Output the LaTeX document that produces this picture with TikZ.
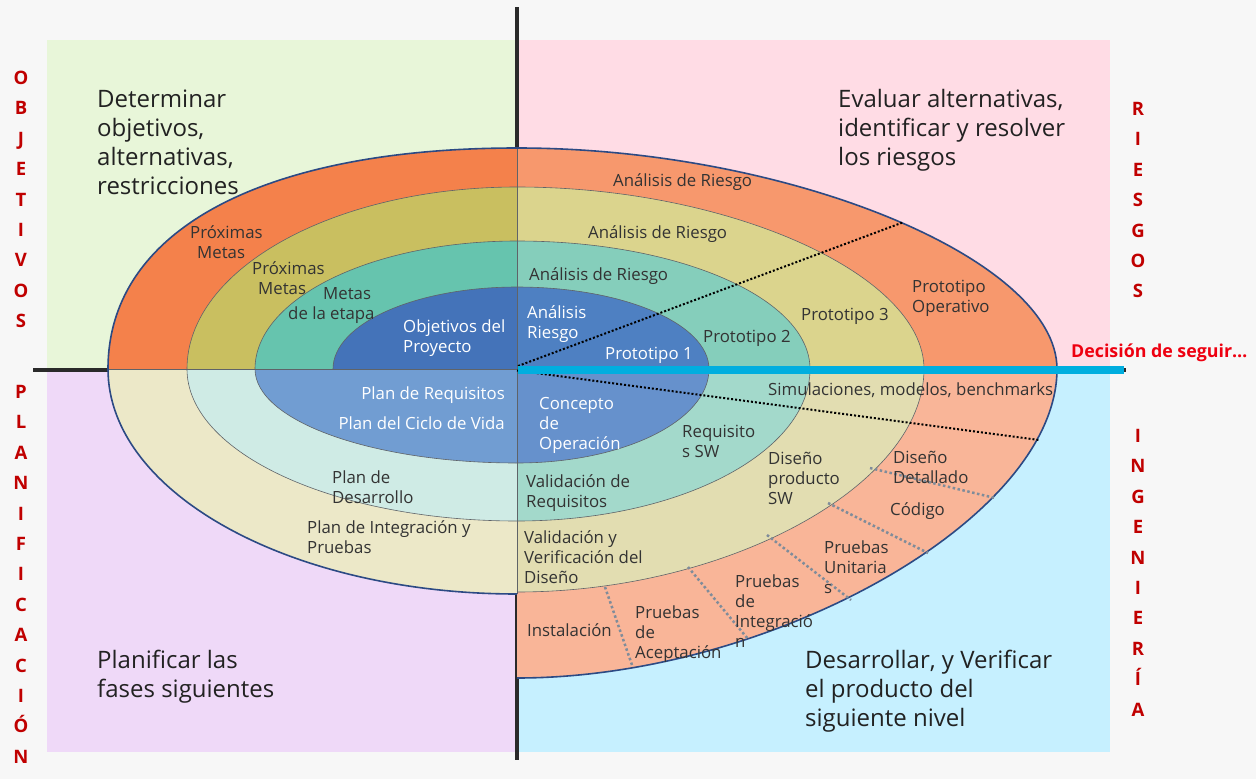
\documentclass[tikz,border=0pt]{standalone}
\usepackage{fontspec}
\setmainfont{Open Sans}
\definecolor{bgc}{HTML}{F7F7F7}
\definecolor{qgreen}{HTML}{E8F6D9}
\definecolor{qpink}{HTML}{FFDCE5}
\definecolor{qpurple}{HTML}{EFD9F8}
\definecolor{qblue}{HTML}{C6F0FF}
\definecolor{ulA}{HTML}{F4814B}
\definecolor{ulB}{HTML}{C9BF60}
\definecolor{ulC}{HTML}{66C4AE}
\definecolor{ulD}{HTML}{4473B9}
\definecolor{urA}{HTML}{F7986D}
\definecolor{urB}{HTML}{DBD48D}
\definecolor{urC}{HTML}{85CEBB}
\definecolor{urD}{HTML}{4E80C2}
\definecolor{llA}{HTML}{ECE8C8}
\definecolor{llB}{HTML}{CFEBE5}
\definecolor{llC}{HTML}{719DD2}
\definecolor{lrA}{HTML}{F9B598}
\definecolor{lrB}{HTML}{E2DDB1}
\definecolor{lrC}{HTML}{A3D9CB}
\definecolor{lrD}{HTML}{6691CC}
\definecolor{barc}{HTML}{00AEDF}
\definecolor{navy}{HTML}{2C4A84}
\definecolor{ringc}{HTML}{5F6368}
\definecolor{axisc}{HTML}{2A2A2A}
\definecolor{txt}{HTML}{333333}
\definecolor{bigtxt}{HTML}{222222}
\definecolor{sidered}{HTML}{C00000}
\definecolor{decred}{HTML}{EE0010}
\definecolor{gdot}{HTML}{7F8C9A}
% quarter fill: sx sy rx ry kx ky style
\newcommand{\qf}[7]{\fill[#7] (517,369) -- ({517+(#1)*(#3)},369) .. controls ({517+(#1)*(#3)},{369+(#2)*(#6)*(#4)}) and ({517+(#1)*(#5)*(#3)},{369+(#2)*(#4)}) .. (517,{369+(#2)*(#4)}) -- cycle;}
\newcommand{\qd}[7]{\draw[#7] ({517+(#1)*(#3)},369) .. controls ({517+(#1)*(#3)},{369+(#2)*(#6)*(#4)}) and ({517+(#1)*(#5)*(#3)},{369+(#2)*(#4)}) .. (517,{369+(#2)*(#4)});}
\newcommand{\Ls}[1]{\vtop{\halign{##\hfil\cr#1\crcr}}}
\newcommand{\Cs}[1]{\vtop{\halign{\hfil##\hfil\cr#1\crcr}}}
\tikzset{
  ringline/.style={draw=ringc,line width=0.6pt},
  outerline/.style={draw=navy,line width=1.6pt},
  axisline/.style={draw=axisc,line width=4pt},
  blkdot/.style={draw=black,line width=2pt,dash pattern=on 2pt off 2pt},
  grydot/.style={draw=gdot,line width=2.5pt,dash pattern=on 2.5pt off 2.5pt},
  lbl/.style={inner sep=0pt,text=txt,font=\fontsize{16.8}{20}\selectfont},
  wl/.style={lbl,text=white},
  big/.style={inner sep=0pt,text=bigtxt,font=\fontsize{24}{29}\selectfont},
  side/.style={inner sep=0pt,text=sidered,font=\bfseries\fontsize{18.5}{30.4}\selectfont,anchor=base},
}
\begin{document}
\begin{tikzpicture}[x=1pt,y=-1pt]
\path[use as bounding box] (0,0) rectangle (1256,779);
\fill[bgc] (0,0) rectangle (1256,779);
% quadrants
\fill[qgreen] (47,40) rectangle (517,369);
\fill[qpink] (517,40) rectangle (1110,369);
\fill[qpurple] (47,369) rectangle (517,752);
\fill[qblue] (517,369) rectangle (1110,752);
% axes
\draw[axisline] (516.5,7) -- (516.5,760);
\draw[axisline] (33,369.5) -- (1126,369.5);
% upper left
\qf{-1}{-1}{409}{221}{.6}{.65}{ulA}
\qf{-1}{-1}{330}{182}{.5523}{.5523}{ulB}
\qf{-1}{-1}{262}{128}{.5523}{.5523}{ulC}
\qf{-1}{-1}{184}{82}{.5523}{.5523}{ulD}
% upper right
\qf{1}{-1}{540}{221}{.5}{.5}{urA}
\qf{1}{-1}{407}{182}{.52}{.52}{urB}
\qf{1}{-1}{293}{128}{.5523}{.5523}{urC}
\qf{1}{-1}{192}{82}{.5523}{.5523}{urD}
% lower right
\qf{1}{1}{540}{309}{.47}{.485}{lrA}
\qf{1}{1}{407}{223}{.52}{.52}{lrB}
\qf{1}{1}{293}{152}{.5523}{.5523}{lrC}
\qf{1}{1}{192}{94}{.5523}{.5523}{lrD}
% lower left
\qf{-1}{1}{409}{225}{.5523}{.5523}{llA}
\qf{-1}{1}{330}{152}{.5523}{.5523}{llB}
\qf{-1}{1}{262}{94}{.5523}{.5523}{llC}
% ring outlines
\qd{-1}{-1}{330}{182}{.5523}{.5523}{ringline}
\qd{-1}{-1}{262}{128}{.5523}{.5523}{ringline}
\qd{-1}{-1}{184}{82}{.5523}{.5523}{ringline}
\qd{1}{-1}{407}{182}{.52}{.52}{ringline}
\qd{1}{-1}{293}{128}{.5523}{.5523}{ringline}
\qd{1}{-1}{192}{82}{.5523}{.5523}{ringline}
\qd{1}{1}{407}{223}{.52}{.52}{ringline}
\qd{1}{1}{293}{152}{.5523}{.5523}{ringline}
\qd{1}{1}{192}{94}{.5523}{.5523}{ringline}
\qd{-1}{1}{330}{152}{.5523}{.5523}{ringline}
\qd{-1}{1}{262}{94}{.5523}{.5523}{ringline}
\draw[ringline] (517,148) -- (517,594);
\draw[ringline] (108,369) -- (1057,369);
% outer outlines
\qd{-1}{-1}{409}{221}{.6}{.65}{outerline}
\qd{1}{-1}{540}{221}{.5}{.5}{outerline}
\qd{1}{1}{540}{309}{.47}{.485}{outerline}
\qd{-1}{1}{409}{225}{.5523}{.5523}{outerline}
% dotted radial lines
\coordinate (c0) at (518,366);
\coordinate (c1) at (904,222);
\coordinate (c2) at (517,370.5);
\coordinate (c3) at (1039,440);
\draw[blkdot] (c0) -- (c1);
\draw[blkdot] (c2) -- (c3);
\coordinate (g1a) at (870,468); \coordinate (g1b) at (995,498);
\coordinate (g2a) at (828,503); \coordinate (g2b) at (928,553);
\coordinate (g3a) at (767,535); \coordinate (g3b) at (851,600);
\coordinate (g4a) at (688,567); \coordinate (g4b) at (748,639);
\coordinate (g5a) at (605,587); \coordinate (g5b) at (632,665);
\draw[grydot] (g1a) -- (g1b);
\draw[grydot] (g2a) -- (g2b);
\draw[grydot] (g3a) -- (g3b);
\draw[grydot] (g4a) -- (g4b);
\draw[grydot] (g5a) -- (g5b);
% decision bar
\coordinate (b0) at (518,370);
\coordinate (b1) at (1124,370);
\draw[barc,line width=8.3pt] (b0) -- (b1);
% big quadrant texts
\node[big,anchor=base west] (t1) at (97,107) {\Ls{Determinar\cr objetivos,\cr alternativas,\cr restricciones}};
\node[big,anchor=base west] (t2) at (838,107) {\Ls{Evaluar alternativas,\cr identificar y resolver\cr los riesgos}};
\node[big,anchor=base west] (t3) at (97,668) {\Ls{Planificar las\cr fases siguientes}};
\node[big,anchor=base west] (t4) at (805,668) {\Ls{Desarrollar, y Verificar\cr el producto del\cr siguiente nivel}};
% side words
\node[side] (s1) at (21,84.5) {\Cs{O\cr B\cr J\cr E\cr T\cr I\cr V\cr O\cr S}};
\node[side] (s2) at (21,398.4) {\Cs{P\cr L\cr A\cr N\cr I\cr F\cr I\cr C\cr A\cr C\cr I\cr Ó\cr N}};
\node[side] (s3) at (1138,115.4) {\Cs{R\cr I\cr E\cr S\cr G\cr O\cr S}};
\node[side] (s4) at (1138,442.4) {\Cs{I\cr N\cr G\cr E\cr N\cr I\cr E\cr R\cr Í\cr A}};
\node[inner sep=0pt,anchor=base west,text=decred,font=\bfseries\fontsize{17.8}{20}\selectfont] (dec) at (1071,357) {Decisión de seguir…};
% upper left labels
\node[lbl,anchor=base west] (pm1) at (190,238) {\Ls{Próximas\cr\hskip7pt Metas}};
\node[lbl,anchor=base west] (pm2) at (252,274) {\Ls{Próximas\cr\hskip6pt Metas}};
\node[lbl,anchor=base west] (me) at (288,299) {\Ls{\hskip35pt Metas\cr de la etapa}};
\node[wl,anchor=base west] (obj) at (403,332) {\Ls{Objetivos del\cr Proyecto}};
% upper right labels
\node[lbl,anchor=base west] (ar1) at (613,186) {Análisis de Riesgo};
\node[lbl,anchor=base west] (ar2) at (588,238) {Análisis de Riesgo};
\node[lbl,anchor=base west] (ar3) at (529,280) {Análisis de Riesgo};
\node[wl,anchor=base west] (ar4) at (527,318) {\Ls{Análisis\cr Riesgo}};
\node[wl,anchor=base west] (p1) at (605,359) {Prototipo 1};
\node[lbl,anchor=base west] (p2) at (703,342) {Prototipo 2};
\node[lbl,anchor=base west] (p3) at (801,320) {Prototipo 3};
\node[lbl,anchor=base west] (po) at (912,292) {\Ls{Prototipo\cr Operativo}};
% lower left labels
\node[wl,anchor=base east] (pr) at (505,399) {Plan de Requisitos};
\node[wl,anchor=base east] (pc) at (505,429) {Plan del Ciclo de Vida};
\node[lbl,anchor=base west] (pd) at (332,483) {\Ls{Plan de\cr Desarrollo}};
\node[lbl,anchor=base west] (pi) at (307,533) {\Ls{Plan de Integración y\cr Pruebas}};
% lower right labels
\node[wl,anchor=base west] (co) at (539,409) {\Ls{Concepto\cr de\cr Operación}};
\node[lbl,anchor=base west] (rs) at (682,437) {\Ls{Requisito\cr s SW}};
\node[lbl,anchor=base west] (vr) at (526,487) {\Ls{Validación de\cr Requisitos}};
\node[lbl,anchor=base west] (sim) at (768,395) {Simulaciones, modelos, benchmarks};
\node[lbl,anchor=base west] (dp) at (768,464) {\Ls{Diseño\cr producto\cr SW}};
\node[lbl,anchor=base west] (dd) at (893,463) {\Ls{Diseño\cr Detallado}};
\node[lbl,anchor=base west] (cod) at (890,515) {Código};
\node[lbl,anchor=base west] (pu) at (824,553) {\Ls{Pruebas\cr Unitaria\cr s}};
\node[lbl,anchor=base west] (pint) at (735,587) {\Ls{Pruebas\cr de\cr Integració\cr n}};
\node[lbl,anchor=base west] (pa) at (635,618) {\Ls{Pruebas\cr de\cr Aceptación}};
\node[lbl,anchor=base west] (ins) at (527,636) {Instalación};
\node[lbl,anchor=base west] (vv) at (524,543) {\Ls{Validación y\cr Verificación del\cr Diseño}};
\end{tikzpicture}
\end{document}
